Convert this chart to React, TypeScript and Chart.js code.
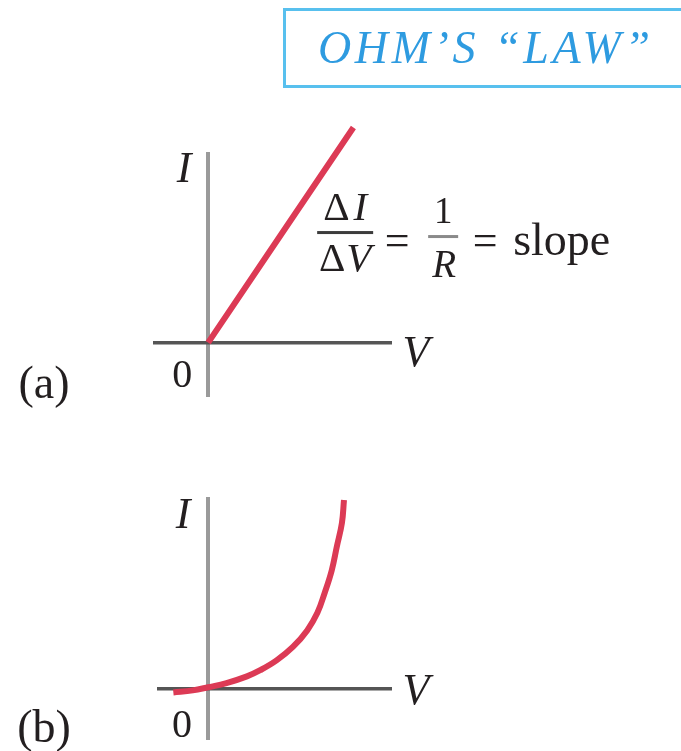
import { useEffect, useRef } from 'react';
import { Chart, registerables } from 'chart.js';

Chart.register(...registerables);

const PAGE_W = 681;
const PAGE_H = 751;

// (a) ohmic conductor: current rises linearly with voltage
const ohmicV = [0, 1.58];
const ohmicI = [0, 2.37];

// (b) non-ohmic element (diode-like characteristic)
const diodeV = [-0.34, -0.15, 0, 0.18, 0.38, 0.51, 0.67, 0.83, 0.97, 1.07, 1.14, 1.21, 1.26, 1.31, 1.33];
const diodeI = [-0.04, -0.02, 0.01, 0.05, 0.115, 0.175, 0.27, 0.4, 0.56, 0.73, 0.92, 1.14, 1.37, 1.6, 1.82];

// axis extents (data units) for each panel
const rangeA = { vMin: -0.6, vMax: 2.0, iMin: -0.6, iMax: 2.1 };
const rangeB = { vMin: -0.5, vMax: 1.8, iMin: -0.5, iMax: 1.85 };

const axisLabels = { current: 'I', voltage: 'V', origin: '0' };
const panelTags = ['(a)', '(b)'];
const titleText = 'OHM\u2019S \u201CLAW\u201D';

const CURVE_RED = '#dc3a55';
const I_AXIS_GRAY = '#9a9a9a';
const V_AXIS_GRAY = '#555555';
const INK = '#231f20';
const TITLE_BLUE = '#2e9be0';
const BOX_BLUE = '#58c0ee';
const SERIF = '"Liberation Serif", "Times New Roman", serif';

type Pad = { left: number; top: number; right: number; bottom: number };

function putText(
  ctx: CanvasRenderingContext2D,
  s: string,
  x: number,
  y: number,
  size: number,
  italic = false,
  align: CanvasTextAlign = 'center',
  color = INK,
) {
  ctx.save();
  ctx.font = `${italic ? 'italic ' : ''}${size}px ${SERIF}`;
  ctx.fillStyle = color;
  ctx.textAlign = align;
  ctx.textBaseline = 'alphabetic';
  ctx.fillText(s, x, y);
  ctx.restore();
}

// draws runs of upright / italic text centred on cx, with a small gap between runs
function putMixed(ctx: CanvasRenderingContext2D, parts: [string, boolean][], cx: number, baseline: number, size: number, gap = 0) {
  ctx.save();
  const widths = parts.map(([s, it]) => {
    ctx.font = `${it ? 'italic ' : ''}${size}px ${SERIF}`;
    return ctx.measureText(s).width;
  });
  const total = widths.reduce((a, b) => a + b, 0) + gap * (parts.length - 1);
  let x = cx - total / 2;
  ctx.fillStyle = INK;
  ctx.textBaseline = 'alphabetic';
  ctx.textAlign = 'left';
  parts.forEach(([s, it], k) => {
    ctx.font = `${it ? 'italic ' : ''}${size}px ${SERIF}`;
    ctx.fillText(s, x, baseline);
    x += widths[k] + gap;
  });
  ctx.restore();
}

// an axis that shows only its zero grid line, which serves as the coordinate axis
function zeroAxis(min: number, max: number, color: string, width: number) {
  return {
    type: 'linear' as const,
    min,
    max,
    bounds: 'data' as const,
    afterBuildTicks: (scale: any) => {
      scale.ticks = [{ value: 0 }];
    },
    ticks: { display: false },
    grid: { color, lineWidth: width, drawTicks: false, tickLength: 0 },
    border: { display: false },
  };
}

function buildChart(
  canvas: HTMLCanvasElement,
  xs: number[],
  ys: number[],
  range: typeof rangeA,
  padding: Pad,
  labelPlugin: any,
) {
  return new Chart(canvas, {
    type: 'scatter',
    data: {
      datasets: [
        {
          data: xs.map((v, k) => ({ x: v, y: ys[k] })),
          showLine: true,
          borderColor: CURVE_RED,
          backgroundColor: CURVE_RED,
          borderWidth: 6,
          pointRadius: 0,
          pointHoverRadius: 0,
          tension: 0.4,
          clip: false,
        } as any,
      ],
    },
    options: {
      responsive: false,
      animation: false,
      devicePixelRatio: 1,
      events: [],
      layout: { padding },
      plugins: { legend: { display: false }, tooltip: { enabled: false } },
      scales: {
        x: zeroAxis(range.vMin, range.vMax, I_AXIS_GRAY, 4),
        y: zeroAxis(range.iMin, range.iMax, V_AXIS_GRAY, 3.5),
      } as any,
    },
    plugins: [labelPlugin],
  });
}

const labelsA = {
  id: 'labelsA',
  afterDraw(chart: any) {
    const ctx: CanvasRenderingContext2D = chart.ctx;
    const x0 = chart.scales.x.getPixelForValue(0);
    const y0 = chart.scales.y.getPixelForValue(0);
    const area = chart.chartArea;

    // title box
    ctx.save();
    ctx.strokeStyle = BOX_BLUE;
    ctx.lineWidth = 3;
    ctx.strokeRect(284.5, 9.5, 440, 77);
    ctx.font = `italic 46px ${SERIF}`;
    (ctx as any).letterSpacing = '0px';
    const w = ctx.measureText(titleText).width;
    const spacing = Math.max(0, (332 - w) / (titleText.length - 1));
    (ctx as any).letterSpacing = `${spacing}px`;
    ctx.fillStyle = TITLE_BLUE;
    ctx.textAlign = 'left';
    ctx.textBaseline = 'alphabetic';
    ctx.fillText(titleText, 318, 63);
    ctx.restore();

    // axis names and origin
    putText(ctx, axisLabels.current, x0 - 24, y0 - 161, 44, true);
    putText(ctx, axisLabels.voltage, area.right + 24, y0 + 23, 44, true);
    putText(ctx, axisLabels.origin, x0 - 26, y0 + 44, 40);

    // slope relation: ΔI/ΔV = 1/R = slope
    const fx = x0 + 137;
    const bar1 = y0 - 110;
    putMixed(ctx, [['\u0394', false], ['I', true]], fx, bar1 - 13, 41, 4);
    ctx.fillStyle = '#3c3c3c';
    ctx.fillRect(fx - 28, bar1 - 1.5, 56, 3);
    putMixed(ctx, [['\u0394', false], ['V', true]], fx, bar1 + 38, 41, 1);
    putText(ctx, '=', fx + 52, y0 - 88, 44);
    const gx = fx + 98;
    const bar2 = y0 - 106;
    putText(ctx, '1', gx, bar2 - 14, 37);
    ctx.fillStyle = '#8a8a8a';
    ctx.fillRect(gx - 15, bar2 - 1.5, 30, 3);
    putText(ctx, 'R', gx + 1, bar2 + 40, 39, true);
    putText(ctx, '=', fx + 140, y0 - 88, 44);
    putText(ctx, 'slope', fx + 168, y0 - 88, 46, false, 'left');

    putText(ctx, panelTags[0], 44, 398, 46);
  },
};

const labelsB = {
  id: 'labelsB',
  afterDraw(chart: any) {
    const ctx: CanvasRenderingContext2D = chart.ctx;
    const x0 = chart.scales.x.getPixelForValue(0);
    const y0 = chart.scales.y.getPixelForValue(0);
    const area = chart.chartArea;
    putText(ctx, axisLabels.current, x0 - 25, y0 - 160, 44, true);
    putText(ctx, axisLabels.voltage, area.right + 24, y0 + 16, 44, true);
    putText(ctx, axisLabels.origin, x0 - 26, y0 + 49, 40);
    putText(ctx, panelTags[1], 44, 742, 46);
  },
};

export default function App() {
  const refA = useRef<HTMLCanvasElement>(null);
  const refB = useRef<HTMLCanvasElement>(null);

  useEffect(() => {
    if (!refA.current || !refB.current) return;
    const a = buildChart(refA.current, ohmicV, ohmicI, rangeA, { left: 153, top: 152, right: PAGE_W - 392, bottom: PAGE_H - 397 }, labelsA);
    const b = buildChart(refB.current, diodeV, diodeI, rangeB, { left: 157, top: 497, right: PAGE_W - 392, bottom: PAGE_H - 740 }, labelsB);
    return () => {
      a.destroy();
      b.destroy();
    };
  }, []);

  const canvasStyle: React.CSSProperties = {
    position: 'absolute',
    left: 0,
    top: 0,
    width: PAGE_W,
    height: PAGE_H,
  };

  return (
    <div style={{ position: 'absolute', left: 0, top: 0, width: PAGE_W, height: PAGE_H, background: '#fff', overflow: 'hidden' }}>
      <canvas ref={refA} width={PAGE_W} height={PAGE_H} style={canvasStyle} />
      <canvas ref={refB} width={PAGE_W} height={PAGE_H} style={canvasStyle} />
    </div>
  );
}
